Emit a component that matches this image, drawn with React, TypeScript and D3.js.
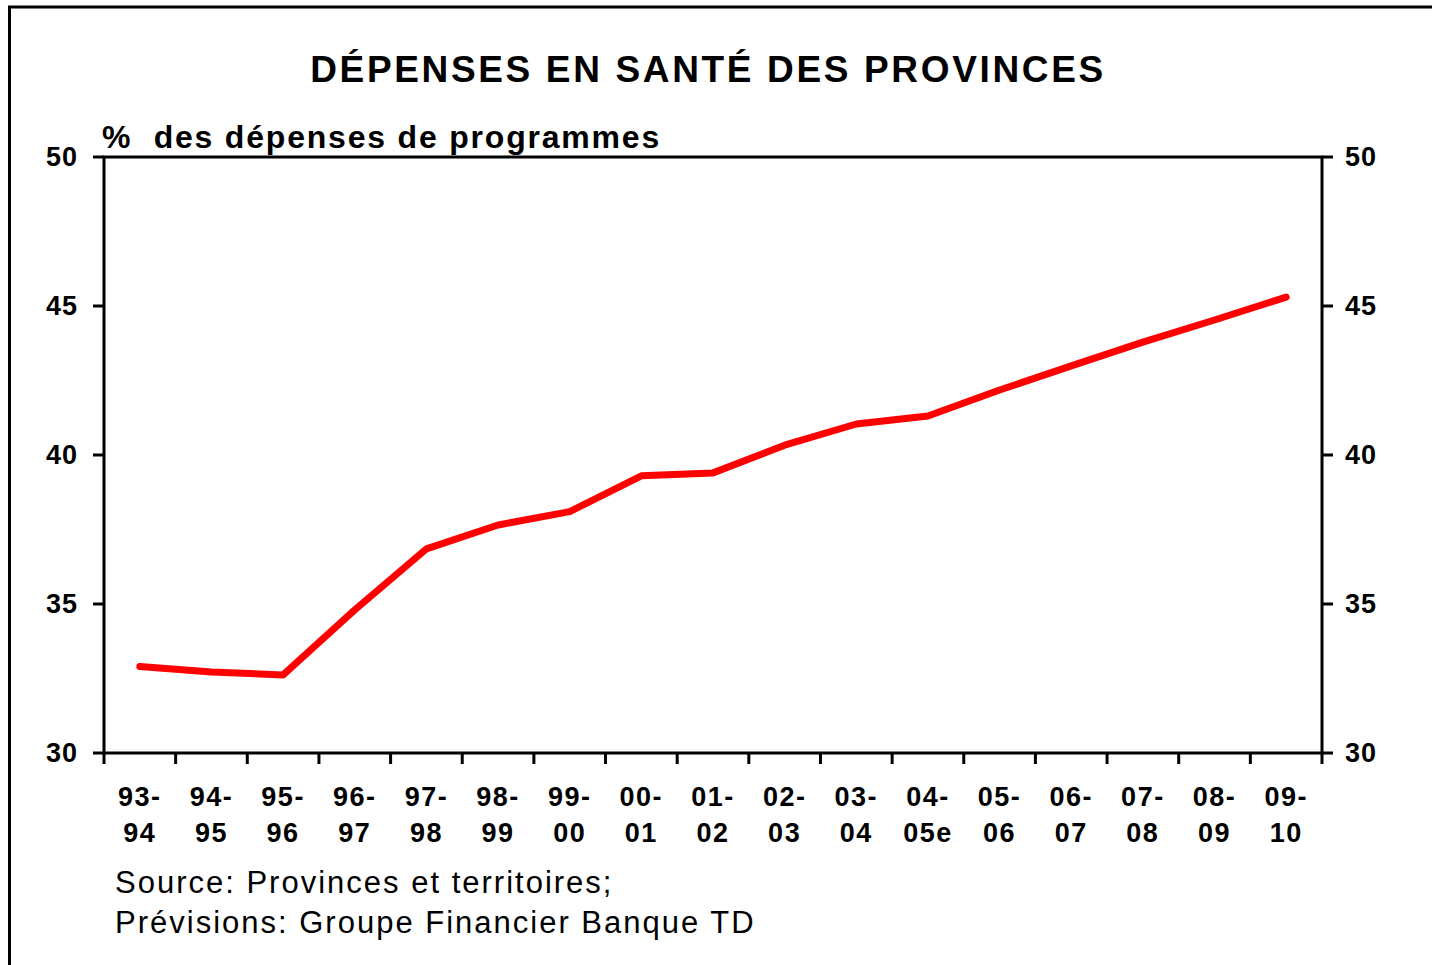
import React from 'react'
import * as d3 from 'd3'

const periodsTop = ['93-', '94-', '95-', '96-', '97-', '98-', '99-', '00-', '01-', '02-', '03-', '04-', '05-', '06-', '07-', '08-', '09-']
const periodsBottom = ['94', '95', '96', '97', '98', '99', '00', '01', '02', '03', '04', '05e', '06', '07', '08', '09', '10']
const healthShare = [32.9, 32.72, 32.62, 34.8, 36.85, 37.65, 38.1, 39.3, 39.4, 40.33, 41.04, 41.31, 42.18, 42.99, 43.79, 44.53, 45.3]
const yTicks = [30, 35, 40, 45, 50]

const W = 1432
const H = 965
const left = 104
const right = 1322
const top = 157
const bottom = 753
const font = '"Liberation Sans", Arial, sans-serif'

export default function App() {
    const keys = periodsTop.map((d, i) => d + periodsBottom[i])
    const x = d3.scaleBand().domain(keys).range([left, right]).padding(0)
    const y = d3.scaleLinear().domain([30, 50]).range([bottom, top])

    const line = d3.line<number>()
        .x((d, i) => (x(keys[i]) as number) + x.bandwidth() / 2)
        .y(d => y(d))

    const edges = keys.map(k => x(k) as number).concat([right])

    return (
        <svg width={W} height={H} style={{ position: 'absolute', left: 0, top: 0 }}>
            <rect x={0} y={0} width={W} height={H} fill="#fff" />
            {/* outer frame */}
            <path d={`M9.5,${H + 5} V7 H${W + 5}`} fill="none" stroke="#000" strokeWidth={3} />

            <text x={708} y={82} textAnchor="middle" fontFamily={font} fontWeight="bold" fontSize={37} letterSpacing={2.65}>
                DÉPENSES EN SANTÉ DES PROVINCES
            </text>
            <text x={102} y={148} fontFamily={font} fontWeight="bold" fontSize={32} letterSpacing={1.8} xmlSpace="preserve">
                %  des dépenses de programmes
            </text>

            {/* plot frame */}
            <rect x={left} y={top} width={right - left} height={bottom - top} fill="none" stroke="#000" strokeWidth={3} />

            {yTicks.map(t => (
                <g key={t}>
                    <line x1={left - 11} x2={left} y1={y(t)} y2={y(t)} stroke="#000" strokeWidth={3} />
                    <line x1={right} x2={right + 11} y1={y(t)} y2={y(t)} stroke="#000" strokeWidth={3} />
                    <text x={78} y={y(t) + 9} textAnchor="end" fontFamily={font} fontWeight="bold" fontSize={27} letterSpacing={1}>{t}</text>
                    <text x={1345} y={y(t) + 9} fontFamily={font} fontWeight="bold" fontSize={27} letterSpacing={1}>{t}</text>
                </g>
            ))}

            {edges.map((e, i) => (
                <line key={i} x1={e} x2={e} y1={bottom} y2={bottom + 11} stroke="#000" strokeWidth={3} />
            ))}

            {keys.map((k, i) => {
                const cx = (x(k) as number) + x.bandwidth() / 2
                return (
                    <g key={k}>
                        <text x={cx} y={806} textAnchor="middle" fontFamily={font} fontWeight="bold" fontSize={27} letterSpacing={1.5}>{periodsTop[i]}</text>
                        <text x={cx} y={842} textAnchor="middle" fontFamily={font} fontWeight="bold" fontSize={27} letterSpacing={1.5}>{periodsBottom[i]}</text>
                    </g>
                )
            })}

            <path d={line(healthShare) || ''} fill="none" stroke="#ff0000" strokeWidth={7} strokeLinecap="round" strokeLinejoin="round" />

            <text x={115} y={893} fontFamily={font} fontSize={31} letterSpacing={2}>Source: Provinces et territoires;</text>
            <text x={115} y={933} fontFamily={font} fontSize={31} letterSpacing={2}>Prévisions: Groupe Financier Banque TD</text>
        </svg>
    )
}
